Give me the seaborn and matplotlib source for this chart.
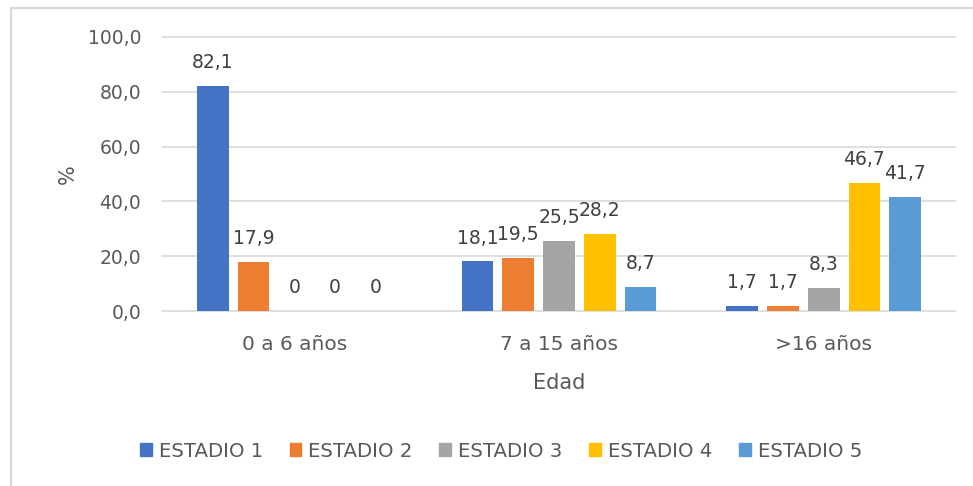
import matplotlib
matplotlib.use("Agg")
import matplotlib.pyplot as plt
import seaborn as sns
import pandas as pd
from matplotlib.patches import Rectangle

categories = ["0 a 6 años", "7 a 15 años", ">16 años"]
series = ["ESTADIO 1", "ESTADIO 2", "ESTADIO 3", "ESTADIO 4", "ESTADIO 5"]
estadio1 = [82.1, 18.1, 1.7]
estadio2 = [17.9, 19.5, 1.7]
estadio3 = [0, 25.5, 8.3]
estadio4 = [0, 28.2, 46.7]
estadio5 = [0, 8.7, 41.7]
yticks = [0, 20, 40, 60, 80, 100]
colors = ["#4472C4", "#ED7D31", "#A5A5A5", "#FFC000", "#5B9BD5"]

values = [estadio1, estadio2, estadio3, estadio4, estadio5]
rows = []
for s, vals in zip(series, values):
    for c, v in zip(categories, vals):
        rows.append({"Edad": c, "Estadio": s, "val": v})
df = pd.DataFrame(rows)

sns.set_theme(style="white")
plt.rcParams["font.family"] = ["DejaVu Sans"]
txt = "#595959"

fig = plt.figure(figsize=(9.73, 4.86), dpi=100)
ax = fig.add_axes([162/973, 1-311/486, (956-162)/973, (311-37)/486])

sns.barplot(data=df, x="Edad", y="val", hue="Estadio", order=categories,
            hue_order=series, palette=colors, saturation=1, width=0.77,
            gap=0.22, ax=ax, linewidth=0, errorbar=None)

ax.set_ylim(0, 100)
ax.set_yticks(yticks)
ax.set_yticklabels([f"{t:.1f}".replace(".", ",") for t in yticks], fontsize=13.5, color=txt)
ax.tick_params(axis="x", labelsize=14.5, labelcolor=txt, length=0, pad=17)
ax.tick_params(axis="y", length=0, pad=15)
ax.grid(axis="y", color="#D9D9D9", linewidth=1.2)
for gl in ax.get_ygridlines():
    gl.set_clip_on(False)
ax.set_axisbelow(True)
for sp in ax.spines.values():
    sp.set_visible(False)

ax.set_xlabel("Edad", fontsize=15, color=txt, labelpad=14)
ax.set_ylabel("%", fontsize=15, color=txt, labelpad=7)

for cont, vals in zip(ax.containers, values):
    labels = [("0" if v == 0 else f"{v:.1f}".replace(".", ",")) for v in vals]
    ax.bar_label(cont, labels=labels, padding=10, fontsize=13.5, color="#404040")

leg = ax.get_legend()
if leg is not None:
    leg.remove()
handles = [Rectangle((0, 0), 1, 1, color=c) for c in colors]
fig.legend(handles, series, loc="center", bbox_to_anchor=(501/973, 1-451/486),
           ncol=5, frameon=False, fontsize=14.2, handlelength=0.6, handleheight=0.6,
           handletextpad=0.35, columnspacing=1.35, labelcolor=txt)

border = Rectangle((11/973, -0.05), 1.1, 1-8/486+0.05, transform=fig.transFigure,
                   fill=False, edgecolor="#D9D9D9", linewidth=1.5)
fig.patches.append(border)

fig.savefig("out.png", dpi=100)
